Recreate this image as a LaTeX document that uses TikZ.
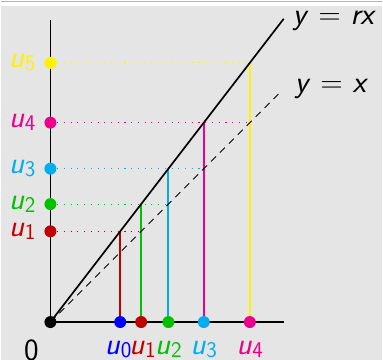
\documentclass[tikz,border=0pt]{standalone}
\usepackage{fontspec}
\usetikzlibrary{positioning}
\definecolor{fond}{RGB}{229,229,229}
\definecolor{ured}{RGB}{192,0,0}
\definecolor{ugreen}{RGB}{0,192,0}
\definecolor{ucyan}{RGB}{0,174,239}
\definecolor{umag}{RGB}{236,0,140}
\definecolor{uyel}{RGB}{255,242,0}
\newcommand{\uu}[1]{\textit{u}\kern0.3pt\raisebox{-2.2pt}{\fontsize{16}{16}\selectfont #1}}
\begin{document}
\begin{tikzpicture}[x=0.025cm, y=0.025cm,
      titik/.style={circle, fill, inner sep=0pt, minimum size=12*0.025cm},
      sumbu/.style={line width=1.3pt},
      tegak/.style={line width=1.3pt},
      titiktitik/.style={line width=0.8pt, dash pattern=on 0.8pt off 4pt},
      label/.style={font=\sffamily\fontsize{22}{26}\selectfont, inner sep=0pt}]
    % background
    \fill[fond] (-50,-38) rectangle (333,323);
    \fill[white] (-50,317) rectangle (333,323);
    \draw[gray!60, line width=0.8pt] (-50,321.5) -- (333,321.5);
    \useasboundingbox (-50,-38) rectangle (333,323);

    \coordinate (O) at (0,0);
    \coordinate (xujung) at (234,0);
    \coordinate (yujung) at (0,303);
    \coordinate (rxujung) at (234,304.2);
    \coordinate (xxujung) at (232,232);

    % titik di sumbu x
    \coordinate (a0) at (70,0);
    \coordinate (a1) at (91,0);
    \coordinate (a2) at (118.3,0);
    \coordinate (a3) at (153.8,0);
    \coordinate (a4) at (200,0);
    % titik di sumbu y
    \coordinate (b1) at (0,91);
    \coordinate (b2) at (0,118.3);
    \coordinate (b3) at (0,153.8);
    \coordinate (b4) at (0,200);
    \coordinate (b5) at (0,260);

    % garis titik-titik
    \draw[titiktitik, ured] (b1) -- (91,91);
    \draw[titiktitik, ugreen] (b2) -- (118.3,118.3);
    \draw[titiktitik, ucyan] (b3) -- (153.8,153.8);
    \draw[titiktitik, umag] (b4) -- (200,200);
    \draw[titiktitik, uyel] (b5) -- (200,260);

    % garis tegak
    \draw[tegak, ured] (a0) -- (70,91);
    \draw[tegak, ugreen] (a1) -- (91,118.3);
    \draw[tegak, ucyan] (a2) -- (118.3,153.8);
    \draw[tegak, umag] (a3) -- (153.8,200);
    \draw[tegak, uyel] (a4) -- (200,260);

    % sumbu dan garis
    \draw[sumbu] (O) -- (xujung);
    \draw[sumbu] (O) -- (yujung);
    \draw[line width=1.2pt] (O) -- (rxujung);
    \draw[line width=0.6pt, dash pattern=on 5pt off 4pt] (O) -- (xxujung);

    \node[label, anchor=base west] (rx) at (243,298) {\textit{y} = \textit{rx}};
    \node[label, anchor=base west] (xx) at (245,230) {\textit{y} = \textit{x}};

    % titik
    \node[titik, black] (o) at (O) {};
    \node[titik, blue] (p0) at (a0) {};
    \node[titik, ured] (p1) at (a1) {};
    \node[titik, ugreen] (p2) at (a2) {};
    \node[titik, ucyan] (p3) at (a3) {};
    \node[titik, umag] (p4) at (a4) {};
    \node[titik, ured] (q1) at (b1) {};
    \node[titik, ugreen] (q2) at (b2) {};
    \node[titik, ucyan] (q3) at (b3) {};
    \node[titik, umag] (q4) at (b4) {};
    \node[titik, uyel] (q5) at (b5) {};

    % label
    \node[label, anchor=north] (nol) at (-19,-17) {0};
    \node[label, below=9pt of p0, xshift=-1.5pt, blue] (l0) {\uu{0}};
    \node[label, below=9pt of p1, xshift=1pt, ured] (l1) {\uu{1}};
    \node[label, below=9pt of p2, ugreen] (l2) {\uu{2}};
    \node[label, below=9pt of p3, ucyan] (l3) {\uu{3}};
    \node[label, below=9pt of p4, umag] (l4) {\uu{4}};
    \node[label, left=6pt of q1, ured] (m1) {\uu{1}};
    \node[label, left=6pt of q2, ugreen] (m2) {\uu{2}};
    \node[label, left=6pt of q3, ucyan] (m3) {\uu{3}};
    \node[label, left=6pt of q4, umag] (m4) {\uu{4}};
    \node[label, left=6pt of q5, uyel] (m5) {\uu{5}};
  \end{tikzpicture}
\end{document}
